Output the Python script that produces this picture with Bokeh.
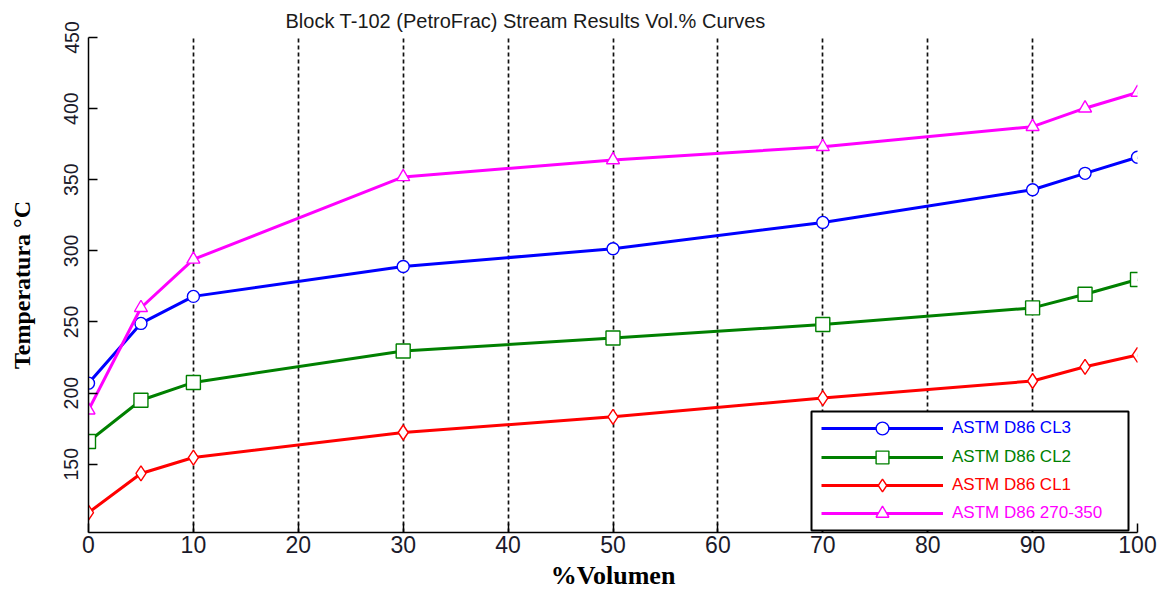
from bokeh.plotting import figure
from bokeh.models import (FixedTicker, Range1d, Legend, LegendItem, BoxAnnotation)
from bokeh.embed import file_html
from bokeh.resources import INLINE

# ---- data ----
vol_pct = [0, 5, 10, 30, 50, 70, 90, 95, 100]
cl3 = [207, 249, 268, 289, 301.5, 320, 343, 354.5, 365.8]
cl2 = [166, 195, 207.5, 229.6, 238.7, 248.2, 259.9, 269.5, 279.9]
cl1 = [116, 143.5, 154.7, 172.3, 183.3, 196.5, 208.5, 218.5, 226.8]
d270_350 = [188, 260, 294, 352, 363.9, 373.2, 387.3, 400.3, 411.3]

series_names = ["ASTM D86 CL3", "ASTM D86 CL2", "ASTM D86 CL1", "ASTM D86 270-350"]
x_ticks = [0, 10, 20, 30, 40, 50, 60, 70, 80, 90, 100]
y_ticks = [150, 200, 250, 300, 350, 400, 450]

title_text = "Block T-102 (PetroFrac) Stream Results Vol.% Curves"
x_label = "%Volumen"
y_label = "Temperatura \u00b0C"

p = figure(width=1160, height=594, output_backend="svg", toolbar_location=None,
           x_range=Range1d(0, 100), y_range=Range1d(102, 450),
           min_border_left=88, min_border_right=23, min_border_top=37, min_border_bottom=62)

p.outline_line_color = None
p.background_fill_color = "white"
p.border_fill_color = "white"

# title
p.title.text = title_text
p.title.text_font = "Liberation Sans"
p.title.text_font_size = "20px"
p.title.text_font_style = "normal"
p.title.text_color = "#1a1a1a"
p.title.align = "left"
p.title.vertical_align = "middle"
p.title.offset = 197
p.title.standoff = 10

# axes
for ax in (p.xaxis[0], p.yaxis[0]):
    ax.axis_line_color = "black"
    ax.axis_line_width = 1.5
    ax.major_tick_in = 9
    ax.major_tick_out = 0
    ax.major_tick_line_color = "black"
    ax.major_tick_line_width = 1.5
    ax.minor_tick_line_color = None
    ax.major_label_text_font = "Liberation Sans"
    ax.major_label_text_color = "#1a1a2a"
    ax.axis_label_text_font = "Liberation Serif"
    ax.axis_label_text_font_style = "bold"
    ax.axis_label_text_color = "black"

p.xaxis[0].ticker = FixedTicker(ticks=x_ticks)
p.xaxis[0].major_label_text_font_size = "23px"
p.xaxis[0].major_label_standoff = 3
p.xaxis[0].axis_label = x_label
p.xaxis[0].axis_label_text_font_size = "26px"
p.xaxis[0].axis_label_standoff = 5

p.yaxis[0].ticker = FixedTicker(ticks=y_ticks)
p.yaxis[0].major_label_orientation = "vertical"
p.yaxis[0].major_label_text_font_size = "19.5px"
p.yaxis[0].major_label_standoff = 10
p.yaxis[0].axis_label = y_label
p.yaxis[0].axis_label_text_font_size = "24px"
p.yaxis[0].axis_label_standoff = 27

# grid: only vertical dotted lines
p.xgrid[0].ticker = FixedTicker(ticks=x_ticks)
p.xgrid[0].grid_line_color = "#111111"
p.xgrid[0].grid_line_width = 1.7
p.xgrid[0].grid_line_dash = "4 3"
p.ygrid[0].grid_line_color = None

colors = ["#0000ff", "#008000", "#ff0000", "#ff00ff"]
ys = [cl3, cl2, cl1, d270_350]
markers = ["circle", "square", "diamond", "triangle"]
sizes = [12, 14, 15, 13]

renderers = []
for y, c, m, s in zip(ys, colors, markers, sizes):
    r1 = p.line(vol_pct, y, line_color=c, line_width=3)
    r2 = p.scatter(vol_pct, y, marker=m, size=s, line_color=c, fill_color="white", line_width=1.4)
    renderers.append((r1, r2))

# legend box
box = BoxAnnotation(left=723, right=1040, bottom=2, top=121,
                    left_units="screen", right_units="screen",
                    bottom_units="screen", top_units="screen",
                    fill_color="white", fill_alpha=1.0,
                    line_color="black", line_alpha=1.0, line_width=2)
p.add_layout(box)

legend_y = [88, 59, 31, 3]
for name, (r1, r2), c, ly in zip(series_names, renderers, colors, legend_y):
    lg = Legend(items=[LegendItem(label=name, renderers=[r1, r2])],
                location=(733, ly),
                glyph_width=122, glyph_height=32, label_height=32,
                label_standoff=9, padding=0, margin=0, spacing=0,
                border_line_color=None, background_fill_alpha=0,
                label_text_font="Liberation Sans", label_text_font_size="17px",
                label_text_color=c)
    p.add_layout(lg)

open("out.html", "w").write(file_html(p, INLINE))
